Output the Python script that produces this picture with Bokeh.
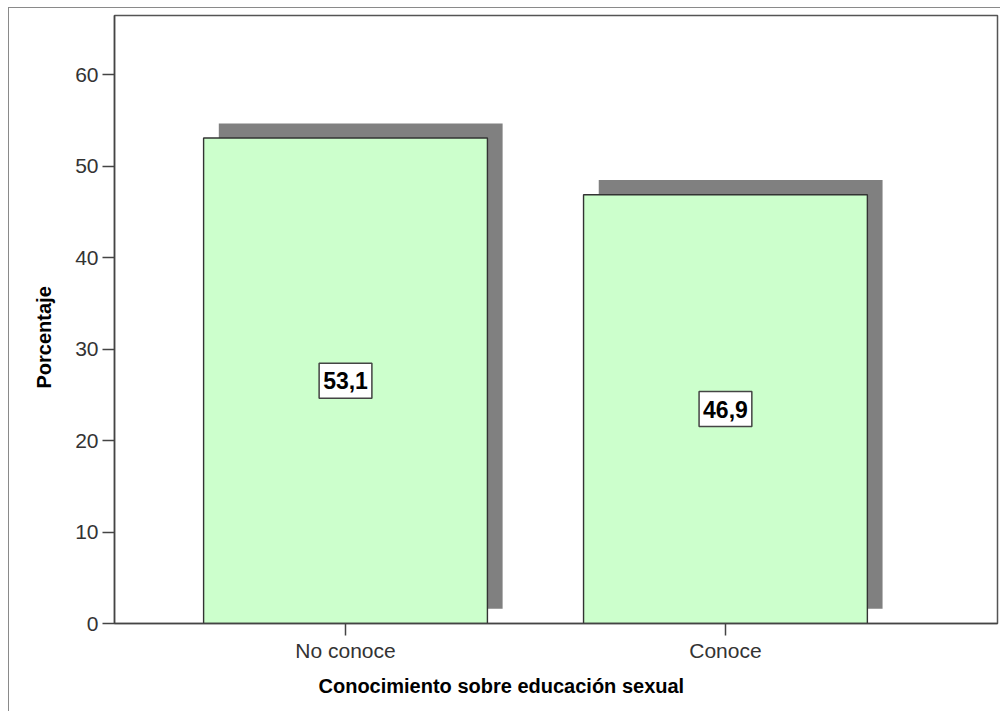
from bokeh.plotting import figure
from bokeh.models import ColumnDataSource, FixedTicker, Label, Title, Range1d
from bokeh.embed import file_html
from bokeh.resources import INLINE

# ---- data ----
categories = ["No conoce", "Conoce"]
percentages = [53.1, 46.9]
value_labels = ["53,1", "46,9"]
y_ticks = [0, 10, 20, 30, 40, 50, 60]
x_title = "Conocimiento sobre educación sexual"
y_title = "Porcentaje"

# ---- styling ----
FONT = "Liberation Sans"
BAR_W = 0.747
SHADOW_DX = 0.04
SHADOW_DY = 1.6

xs = list(range(len(categories)))
src = ColumnDataSource(dict(
    x=xs,
    pct=percentages,
    sx=[i + SHADOW_DX for i in xs],
    stop=[v + SHADOW_DY for v in percentages],
    sbot=[SHADOW_DY] * len(xs),
))

p = figure(
    frame_width=883, frame_height=608,
    x_range=Range1d(-0.608, 1.716), y_range=Range1d(0, 66.5),
    output_backend="svg", toolbar_location=None,
    min_border_left=105, min_border_right=3, min_border_top=7, min_border_bottom=88,
    background_fill_color="white", border_fill_color="white",
)
p.styles = {"margin-left": "8px", "margin-top": "7px",
            "border-left": "1px solid #8a8a8a", "border-top": "1px solid #8a8a8a"}

p.outline_line_color = "#555555"
p.outline_line_width = 1.5
p.xgrid.visible = False
p.ygrid.visible = False

# shadows
p.vbar(x="sx", top="stop", bottom="sbot", width=BAR_W, source=src,
       fill_color="#808080", line_color=None)
# bars
p.vbar(x="x", top="pct", width=BAR_W, source=src,
       fill_color="#ccffcc", line_color="#333333", line_width=1.4)

for xi, v, lab in zip(xs, percentages, value_labels):
    p.add_layout(Label(
        x=xi, y=v / 2, text=lab, text_align="center", text_baseline="middle",
        text_font=FONT, text_font_style="bold", text_font_size="23px",
        text_color="black",
        background_fill_color="white", border_line_color="#444444",
        border_line_width=1.5, padding=(4, 9),
    ))

for ax in (p.xaxis[0], p.yaxis[0]):
    ax.axis_line_color = "#444444"
    ax.axis_line_width = 1.5
    ax.major_tick_line_color = "#444444"
    ax.major_tick_line_width = 1.5
    ax.major_tick_out = 12
    ax.major_tick_in = 0
    ax.minor_tick_line_color = None
    ax.major_label_text_font = FONT
    ax.major_label_text_font_size = "21px"
    ax.major_label_text_color = "#333333"

p.xaxis.ticker = FixedTicker(ticks=xs)
p.xaxis.major_label_overrides = {i: c for i, c in zip(xs, categories)}
p.xaxis.major_label_standoff = 3

p.yaxis.ticker = FixedTicker(ticks=y_ticks)
p.yaxis.major_label_standoff = 4

p.add_layout(Title(text=y_title, align="left", offset=235, standoff=36,
                   text_font=FONT, text_font_style="bold", text_font_size="20px",
                   text_color="black"), "left")

p.add_layout(Title(text=x_title, align="left", offset=204, standoff=16,
                   text_font=FONT, text_font_style="bold", text_font_size="20px",
                   text_color="black"), "below")

open("out.html", "w").write(file_html(p, INLINE))
